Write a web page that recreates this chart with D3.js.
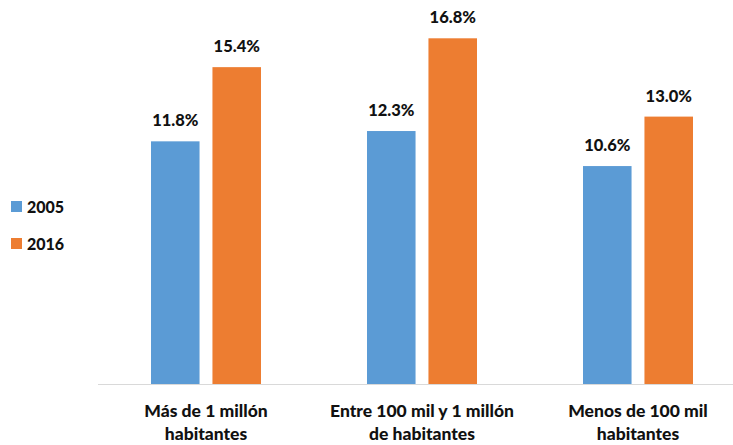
<!DOCTYPE html>
<html>
<head>
<meta charset="utf-8">
<script src="https://cdn.jsdelivr.net/npm/d3@7"></script>
<style>
  html, body { margin: 0; padding: 0; background: #fff; }
  svg { display: block; }
  text { font-family: Lato, "Open Sans", "Noto Sans", sans-serif; font-weight: 900; fill: #111; }
</style>
</head>
<body>
<svg id="chart" width="733" height="445"></svg>
<script>
// Población por tamaño de localidad
const categories = [
  ["Más de 1 millón", "habitantes"],
  ["Entre 100 mil y 1 millón", "de habitantes"],
  ["Menos de 100 mil", "habitantes"]
];
const seriesNames = ["2005", "2016"];
const values2005 = [11.8, 12.3, 10.6];
const values2016 = [15.4, 16.8, 13.0];
const colors = ["#5B9BD5", "#ED7D31"];

const svg = d3.select("#chart");
const W = 733, H = 445;
const baseY = 384.5;

const catKeys = categories.map((c, i) => i);
const x = d3.scaleBand().domain(catKeys).range([98, 746]).paddingInner(0).paddingOuter(0);
const xInner = d3.scaleBand().domain(seriesNames).range([53, 163]).paddingInner(0.21);
const y = d3.scaleLinear().domain([0, 16.8]).range([baseY, 38.3]);

const series = [values2005, values2016];

// bars
seriesNames.forEach((name, si) => {
  const g = svg.append("g");
  g.selectAll("rect")
    .data(series[si])
    .join("rect")
    .attr("x", (d, i) => x(i) + xInner(name))
    .attr("y", d => y(d))
    .attr("width", xInner.bandwidth())
    .attr("height", d => y(0) - y(d))
    .attr("fill", colors[si]);
  g.selectAll("text")
    .data(series[si])
    .join("text")
    .attr("x", (d, i) => x(i) + xInner(name) + xInner.bandwidth() / 2)
    .attr("y", d => y(d) - 15)
    .attr("text-anchor", "middle")
    .attr("font-size", 16.5)
    .text(d => d.toFixed(1) + "%");
});

// baseline
svg.append("line")
  .attr("x1", 98).attr("x2", W)
  .attr("y1", baseY).attr("y2", baseY)
  .attr("stroke", "#D9D9D9").attr("stroke-width", 1.2);

// category labels
const labels = svg.append("g");
categories.forEach((lines, i) => {
  const t = labels.append("text")
    .attr("x", x(i) + 108)
    .attr("text-anchor", "middle")
    .attr("font-size", 17.5);
  lines.forEach((ln, j) => {
    t.append("tspan").attr("x", x(i) + 108).attr("y", 417 + j * 23).text(ln);
  });
});

// legend
const legend = svg.append("g");
seriesNames.forEach((name, i) => {
  const ly = 201 + i * 37;
  legend.append("rect").attr("x", 11).attr("y", ly).attr("width", 11).attr("height", 11).attr("fill", colors[i]);
  legend.append("text").attr("x", 27).attr("y", ly + 11.5).attr("font-size", 16).text(name);
});
</script>
</body>
</html>
